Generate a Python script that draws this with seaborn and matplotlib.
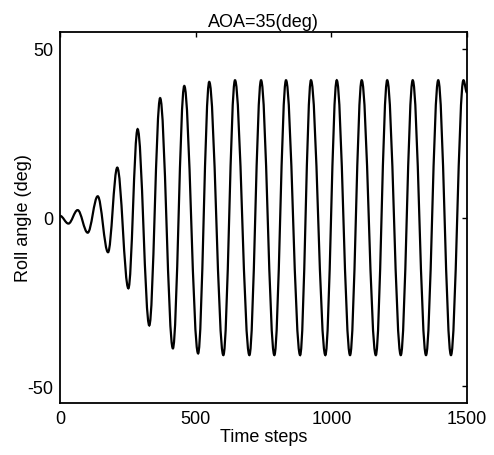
import matplotlib
matplotlib.use("Agg")
import matplotlib.pyplot as plt
from matplotlib.path import Path
from matplotlib.patches import PathPatch
import seaborn as sns
import pandas as pd

# Extrema of the roll-angle trace (time step, degrees)
time_steps = [0, 31, 65, 102, 139, 177, 211, 252, 286, 329, 369, 416, 458, 509,
              550, 602, 645, 698, 741, 790, 833, 885, 925, 978, 1020, 1069,
              1112, 1164, 1206, 1256, 1300, 1349, 1394, 1441, 1487, 1500]
roll_angle = [0.5, -1.8, 2.2, -4.5, 6.3, -10.3, 14.8, -21.0, 26.2, -32.0, 35.4,
              -38.8, 39.0, -40.3, 40.2, -40.8, 40.7, -40.8, 40.7, -40.8, 40.7,
              -40.8, 40.7, -40.8, 40.7, -40.8, 40.7, -40.8, 40.7, -40.8, 40.7,
              -40.8, 40.7, -40.8, 40.7, 37.0]

x_ticks = [0, 500, 1000, 1500]
y_ticks = [-50, 0, 50]
title = "AOA=35(deg)"
x_label = "Time steps"
y_label = "Roll angle (deg)"

sns.set_style("white")
plt.rcParams["font.family"] = ["Liberation Sans", "DejaVu Sans"]
plt.rcParams["text.color"] = "black"
plt.rcParams["axes.labelcolor"] = "black"
plt.rcParams["xtick.color"] = "black"
plt.rcParams["ytick.color"] = "black"
plt.rcParams["axes.unicode_minus"] = False

df = pd.DataFrame({"t": time_steps, "roll": roll_angle})

fig = plt.figure(figsize=(4.94, 4.56), dpi=100)
ax = fig.add_axes([0.1215, 0.114, 0.8238, 0.8136])

# Smooth trace through the read extrema: each swing drawn as a cubic Bezier
# with flat tangents at the turning points (matplotlib path in data coords).
k = 0.364
verts = [(df.t.iloc[0], df.roll.iloc[0])]
codes = [Path.MOVETO]
for i in range(1, len(df)):
    t0, v0 = df.t.iloc[i - 1], df.roll.iloc[i - 1]
    t1, v1 = df.t.iloc[i], df.roll.iloc[i]
    h = t1 - t0
    verts += [(t0 + k * h, v0), (t1 - k * h, v1), (t1, v1)]
    codes += [Path.CURVE4, Path.CURVE4, Path.CURVE4]
ax.add_patch(PathPatch(Path(verts, codes), facecolor="none",
                       edgecolor="black", linewidth=1.6))

ax.set_xlim(0, 1500)
ax.set_ylim(-55, 55)
ax.set_xticks(x_ticks)
ax.set_yticks(y_ticks)
ax.tick_params(direction="in", length=3.5, width=1, top=True, right=True,
               labelsize=13, pad=5, colors="black")
for s in ax.spines.values():
    s.set_visible(True)
    s.set_color("black")
    s.set_linewidth(1.3)

ax.set_title(title, fontsize=13, pad=4)
ax.set_xlabel(x_label, fontsize=13, labelpad=1)
ax.set_ylabel(y_label, fontsize=13)
ax.yaxis.set_label_coords(-0.068, 0.5)

fig.savefig("out.png", dpi=100, facecolor="white")
